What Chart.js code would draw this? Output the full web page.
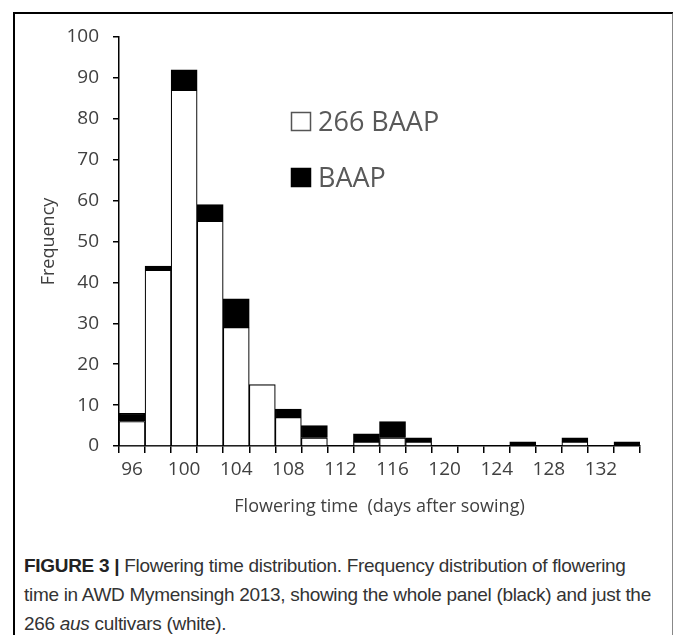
<!DOCTYPE html>
<html lang="en">
  <head>
    <meta charset="UTF-8" />
    <title>Flowering time distribution</title>
    <script src="https://cdn.jsdelivr.net/npm/chart.js"></script>
    <style>
      body { margin: 0; background: #fff; }
      #frame {
        position: absolute; left: 13px; top: 12px; width: 657px; height: 640px;
        border-left: 2px solid #000; border-top: 2px solid #000; border-right: 2px solid #888;
      }
      #wrap { position: absolute; left: 0; top: 0; width: 673px; height: 518px; }
      #caption {
        position: absolute; left: 24px; top: 551px; width: 645px;
        font-family: "Liberation Sans", Arial, sans-serif; font-size: 19px;
        line-height: 29px; color: #333; letter-spacing: -0.3px; white-space: nowrap;
      }
      #caption b { color: #222; }
    </style>
  </head>
  <body>
    <div id="frame"></div>
    <div id="wrap"><canvas id="chart1" width="673" height="518"></canvas></div>
    <div id="caption">
      <b>FIGURE 3 |</b> Flowering time distribution. Frequency distribution of flowering<br />
      time in AWD Mymensingh 2013, showing the whole panel (black) and just the<br />
      266 <i>aus</i> cultivars (white).
    </div>

    <script>
      // flowering time bins (days after sowing), 2-day steps
      var days = [96, 98, 100, 102, 104, 106, 108, 110, 112, 114, 116, 118, 120, 122, 124, 126, 128, 130, 132, 134];
      // 266 aus cultivars (white part)
      var ausCounts = [6, 43, 87, 55, 29, 15, 7, 2, 0, 1, 2, 1, 0, 0, 0, 0, 0, 1, 0, 0];
      // rest of the whole panel (black part stacked on top)
      var restCounts = [2, 1, 5, 4, 7, 0, 2, 3, 0, 2, 4, 1, 0, 0, 0, 1, 0, 1, 0, 1];
      var yTicks = [0, 10, 20, 30, 40, 50, 60, 70, 80, 90, 100];

      var tickFont = { family: "'Open Sans', sans-serif", size: 19 };

      function noZero(arr) {
        return arr.map(function (v) { return v === 0 ? null : v; });
      }

      // legend drawn inside the plot, like the original
      var insideLegend = {
        id: "insideLegend",
        afterDraw: function (chart) {
          var ctx = chart.ctx;
          var ds = chart.data.datasets;
          ctx.save();
          ctx.font = "27px 'Open Sans', sans-serif";
          ctx.textBaseline = "alphabetic";
          for (var i = 0; i < ds.length; i++) {
            var y = 112 + i * 56;
            ctx.fillStyle = ds[i].backgroundColor;
            ctx.fillRect(291, y, 20, 19);
            ctx.strokeStyle = i === 0 ? "#555" : "#000";
            ctx.lineWidth = 1.5;
            ctx.strokeRect(291.5, y + 0.5, 19, 18);
            ctx.fillStyle = "#595959";
            ctx.fillText(ds[i].label, 318, y + 19);
          }
          ctx.restore();
        },
      };

      new Chart(document.getElementById("chart1").getContext("2d"), {
        type: "bar",
        data: {
          labels: days,
          datasets: [
            {
              label: "266 BAAP",
              data: noZero(ausCounts),
              backgroundColor: "#ffffff",
              borderColor: "#000000",
              borderWidth: 1.2,
            },
            {
              label: "BAAP",
              data: noZero(restCounts),
              backgroundColor: "#000000",
              borderColor: "#000000",
              borderWidth: 1.2,
            },
          ],
        },
        options: {
          responsive: false,
          animation: false,
          barPercentage: 1,
          categoryPercentage: 1,
          layout: { padding: { left: 38, right: 33, top: 37, bottom: 0 } },
          plugins: { legend: { display: false }, tooltip: { enabled: false } },
          scales: {
            x: {
              stacked: true,
              afterFit: function (s) { s.height = 72; },
              border: { color: "#000", width: 1.5 },
              grid: { offset: true, drawOnChartArea: false, drawTicks: true, tickLength: 7, color: "#000", lineWidth: 1.5 },
              ticks: {
                autoSkip: false,
                maxRotation: 0,
                color: "#404040",
                font: tickFont,
                padding: 5,
                callback: function (v, i) { return i % 2 === 0 ? days[i] : ""; },
              },
              title: {
                display: true,
                text: "Flowering time  (days after sowing)",
                color: "#404040",
                font: { family: "'Open Sans', sans-serif", size: 18 },
                padding: { top: 4, bottom: 0 },
              },
            },
            y: {
              stacked: true,
              min: 0,
              max: 100,
              afterFit: function (s) { s.width = 81; },
              afterBuildTicks: function (s) { s.ticks = yTicks.map(function (v) { return { value: v }; }); },
              border: { color: "#000", width: 1.5 },
              grid: { drawOnChartArea: false, drawTicks: true, tickLength: 6, color: "#000", lineWidth: 1.5 },
              ticks: { color: "#404040", font: tickFont, padding: 14 },
              title: {
                display: true,
                text: "Frequency",
                color: "#404040",
                font: { family: "'Open Sans', sans-serif", size: 18 },
                padding: 0,
              },
            },
          },
        },
        plugins: [insideLegend],
      });
    </script>
  </body>
</html>
